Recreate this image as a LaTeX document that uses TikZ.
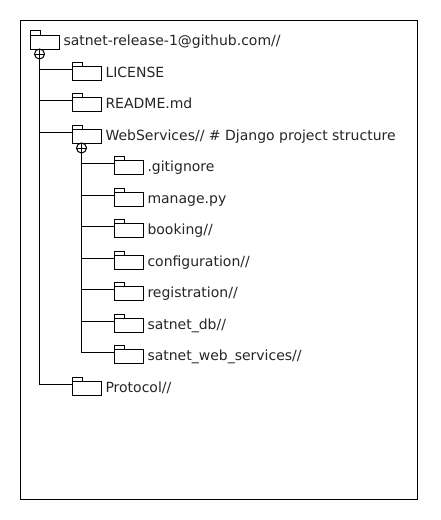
\documentclass[tikz,border=0pt]{standalone}
\usepackage{fontspec}
\setmainfont{DejaVu Sans}
\begin{document}
\begin{tikzpicture}[x=1pt,y=-1pt,line width=1pt,
  fbody/.style={draw,rectangle,minimum width=28.5pt,minimum height=14pt,inner sep=0pt,outer sep=0pt,anchor=north west},
  ftab/.style={draw,rectangle,minimum width=9.5pt,minimum height=4.5pt,inner sep=0pt,outer sep=0pt,anchor=south west},
  ftext/.style={anchor=base west,inner sep=0pt,font=\fontsize{14}{16}\selectfont,text=black!85},
  hub/.style={draw,circle,minimum size=10pt,inner sep=0pt,outer sep=0pt},
  link/.style={line width=1pt}]
\useasboundingbox (0,0) rectangle (440,520);
\fill[white] (0,0) rectangle (440,520);
\node[draw,rectangle,inner sep=0pt,outer sep=0pt,minimum width=396.5pt,minimum height=479pt,anchor=north west] (frame) at (20.5,20) {};
% root
\node[fbody] (root) at (30.5,35) {};
\node[ftab] (roottab) at (root.north west) {};
\node[ftext] (roottxt) at (63,45) {satnet-release-1@github.com//};
\node[hub] (hubroot) at (39.5,54) {};
\draw (hubroot.north) -- (hubroot.south) (hubroot.west) -- (hubroot.east);
% first level
\node[fbody] (lic) at (72.5,66.5) {};
\node[ftab] (lictab) at (lic.north west) {};
\node[ftext] (lictxt) at (105,77) {LICENSE};
\node[fbody] (read) at (72.5,97.5) {};
\node[ftab] (readtab) at (read.north west) {};
\node[ftext] (readtxt) at (105,108) {README.md};
\node[fbody] (web) at (72.5,129.5) {};
\node[ftab] (webtab) at (web.north west) {};
\node[ftext] (webtxt) at (105,140) {WebServices// \# Django project structure};
\node[hub] (hubweb) at (81.5,148) {};
\draw (hubweb.north) -- (hubweb.south) (hubweb.west) -- (hubweb.east);
\node[fbody] (proto) at (72.5,381.5) {};
\node[ftab] (prototab) at (proto.north west) {};
\node[ftext] (prototxt) at (105,392) {Protocol//};
% second level
\node[fbody] (git) at (114.5,160.5) {};
\node[ftab] (gittab) at (git.north west) {};
\node[ftext] (gittxt) at (147,171) {.gitignore};
\node[fbody] (man) at (114.5,192.5) {};
\node[ftab] (mantab) at (man.north west) {};
\node[ftext] (mantxt) at (147,203) {manage.py};
\node[fbody] (book) at (114.5,223.5) {};
\node[ftab] (booktab) at (book.north west) {};
\node[ftext] (booktxt) at (147,234) {booking//};
\node[fbody] (conf) at (114.5,255.5) {};
\node[ftab] (conftab) at (conf.north west) {};
\node[ftext] (conftxt) at (147,266) {configuration//};
\node[fbody] (reg) at (114.5,286.5) {};
\node[ftab] (regtab) at (reg.north west) {};
\node[ftext] (regtxt) at (147,297) {registration//};
\node[fbody] (db) at (114.5,318.5) {};
\node[ftab] (dbtab) at (db.north west) {};
\node[ftext] (dbtxt) at (147,329) {satnet\_db//};
\node[fbody] (ws) at (114.5,349.5) {};
\node[ftab] (wstab) at (ws.north west) {};
\node[ftext] (wstxt) at (147,360) {satnet\_web\_services//};
% connectors
\foreach \t in {lic,read,web,proto}
  \draw[link] (hubroot.south) |- ([yshift=-3pt]\t.north west);
\foreach \t in {git,man,book,conf,reg,db,ws}
  \draw[link] (hubweb.south) |- ([yshift=-3pt]\t.north west);
\end{tikzpicture}
\end{document}
